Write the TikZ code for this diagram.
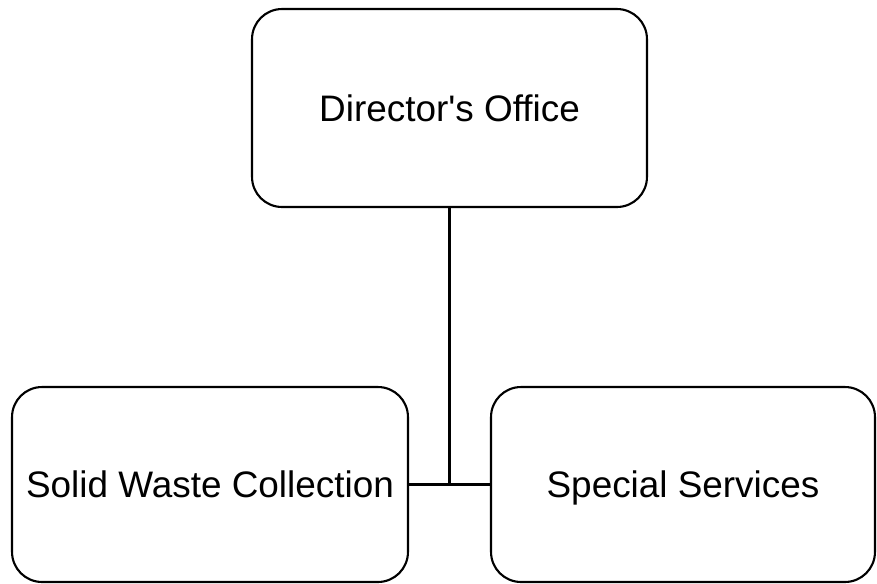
\documentclass[tikz,border=0pt]{standalone}
\usepackage{fontspec}
\setmainfont{Liberation Sans}
\usetikzlibrary{positioning}

\tikzset{
  unit/.style={draw, rounded corners=0.6cm, inner sep=0pt, line width=1.2pt,
    font=\fontsize{21}{25}\selectfont, align=center,
    text height=15.1pt, text depth=0pt},
  link/.style={line width=1.3pt}
}

\begin{document}
\begin{tikzpicture}[x=0.02cm, y=-0.02cm]
			\useasboundingbox (0,0) rectangle (877,583);

			% Draw the boxes
			\node[unit, minimum width=7.9cm, minimum height=3.96cm] (dir) at (449.5,108) {Director\textquotesingle s Office};
			\node[unit, minimum width=7.92cm, minimum height=3.9cm] (sw) at (210,484.5) {Solid Waste Collection};
			\node[unit, minimum width=7.68cm, minimum height=3.9cm] (ss) at (683,484.5) {Special Services};

			% Draw the lines joining them
			\draw[link] (dir.south) -- (dir.south |- sw.east);
			\draw[link] (sw.east) -- (ss.west);
\end{tikzpicture}
\end{document}
